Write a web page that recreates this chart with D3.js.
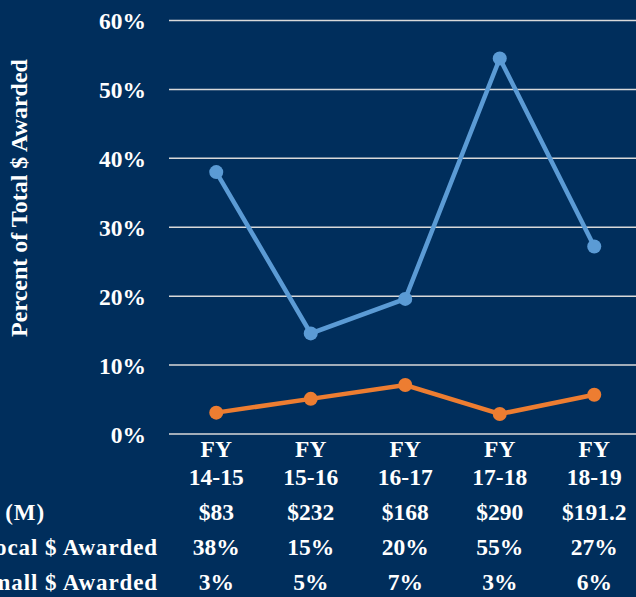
<!DOCTYPE html>
<html>
<head>
<meta charset="utf-8">
<script src="https://cdn.jsdelivr.net/npm/d3@7"></script>
<style>
  html, body { margin: 0; padding: 0; background: #002e5c; }
  svg { display: block; }
  text { font-family: "Liberation Serif", "Times New Roman", serif; font-weight: bold; fill: #fff; }
</style>
</head>
<body>
<div id="svg"></div>
<script>
// datos del grafico
const anios = ["FY 14-15", "FY 15-16", "FY 16-17", "FY 17-18", "FY 18-19"];
const local = [38, 14.6, 19.6, 54.5, 27.2];
const small = [3.1, 5.1, 7.1, 2.9, 5.7];
const totales = ["$83", "$232", "$168", "$290", "$191.2"];
const localTxt = ["38%", "15%", "20%", "55%", "27%"];
const smallTxt = ["3%", "5%", "7%", "3%", "6%"];
const filas = ["Total $ (M)", "Local $ Awarded", "Small $ Awarded"];
const yTicks = [0, 10, 20, 30, 40, 50, 60];

const width = 636;
const height = 597;
const fs = "23.5px";

const svg = d3.select("#svg").append("svg")
    .attr("width", width)
    .attr("height", height);

svg.append("rect").attr("width", width).attr("height", height).attr("fill", "#002e5c");

const x = d3.scaleBand().domain(anios).range([169, 641.5]);
const y = d3.scaleLinear().domain([0, 60]).range([434, 20.5]);

// lineas de la grilla
svg.append("g")
    .selectAll("line")
    .data(yTicks)
    .join("line")
    .attr("x1", 169)
    .attr("x2", width)
    .attr("y1", d => y(d))
    .attr("y2", d => y(d))
    .attr("stroke", "#d9d9d9")
    .attr("stroke-width", 1.5);

// etiquetas eje y
svg.append("g")
    .selectAll("text")
    .data(yTicks)
    .join("text")
    .attr("x", 146)
    .attr("y", d => y(d) + 8.5)
    .attr("text-anchor", "end")
    .style("font-size", fs)
    .text(d => d + "%");

svg.append("text")
    .attr("transform", "translate(27,198) rotate(-90)")
    .attr("text-anchor", "middle")
    .style("font-size", "24px")
    .text("Percent of Total $ Awarded");

// etiquetas de categorias
const cat = svg.append("g")
    .selectAll("text")
    .data(anios)
    .join("text")
    .attr("text-anchor", "middle")
    .style("font-size", fs);
cat.append("tspan")
    .attr("x", d => x(d) + x.bandwidth() / 2)
    .attr("y", 457)
    .text(d => d.split(" ")[0]);
cat.append("tspan")
    .attr("x", d => x(d) + x.bandwidth() / 2)
    .attr("y", 485)
    .text(d => d.split(" ")[1]);

// series
const cx = (d, i) => x(anios[i]) + x.bandwidth() / 2;
const series = [
    { valores: local, color: "#5b9bd5" },
    { valores: small, color: "#ed7d31" },
];
series.forEach((s) => {
    const linea = d3.line().x(cx).y(d => y(d));
    svg.append("path")
        .datum(s.valores)
        .attr("d", linea)
        .attr("fill", "none")
        .attr("stroke", s.color)
        .attr("stroke-width", 4.5);
    svg.append("g")
        .selectAll("circle")
        .data(s.valores)
        .join("circle")
        .attr("cx", cx)
        .attr("cy", d => y(d))
        .attr("r", 7)
        .attr("fill", s.color);
});

// tabla inferior
const tabla = [totales, localTxt, smallTxt];
const filaY = [520, 555, 590];
const filaX = [45, 158, 158];
tabla.forEach((fila, j) => {
    svg.append("text")
        .attr("x", filaX[j])
        .attr("y", filaY[j])
        .attr("text-anchor", "end")
        .style("font-size", "23px")
        .style("letter-spacing", "0.9px")
        .text(filas[j]);
    svg.append("g")
        .selectAll("text")
        .data(fila)
        .join("text")
        .attr("x", (d, i) => cx(d, i))
        .attr("y", filaY[j])
        .attr("text-anchor", "middle")
        .style("font-size", fs)
        .text(d => d);
});
</script>
</body>
</html>
